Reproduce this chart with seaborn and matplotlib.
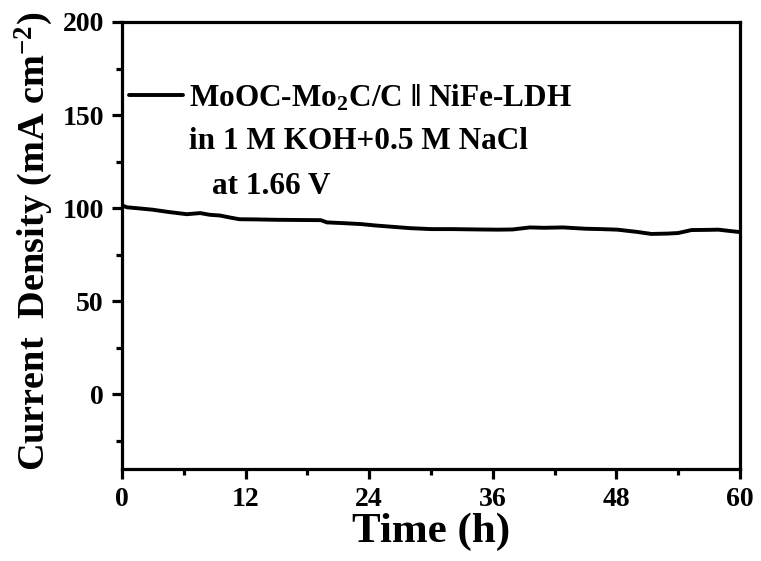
import matplotlib
matplotlib.use("Agg")
import matplotlib.pyplot as plt
from matplotlib.ticker import MultipleLocator
import pandas as pd
import seaborn as sns

# Chronoamperometry of the two-electrode cell at constant cell voltage
time_h = [0, 0.5, 1.5, 3, 4.5, 6.3, 7.6, 8.5, 9.5, 10.5, 11.4, 13, 15, 17,
          19.3, 19.9, 21.5, 23.2, 24.5, 26.1, 28, 30, 32, 34.7, 36.5, 37.9,
          39.6, 41, 42.8, 45, 46.5, 48.1, 50, 51.4, 53, 54, 55.3, 57, 57.9,
          59, 60]
current = [101.5, 100.5, 100.0, 99.2, 98.0, 96.8, 97.4, 96.5, 96.1, 95.0,
           94.1, 94.0, 93.8, 93.7, 93.6, 92.4, 92.0, 91.5, 90.8, 90.1, 89.3,
           88.8, 88.8, 88.6, 88.5, 88.6, 89.7, 89.5, 89.7, 89.0, 88.8, 88.5,
           87.3, 86.2, 86.4, 86.7, 88.3, 88.4, 88.5, 87.8, 87.2]

x_ticks = [0, 12, 24, 36, 48, 60]
y_ticks = [0, 50, 100, 150, 200]

series_label = "MoOC-Mo$_2$C/C \u2016 NiFe-LDH"
note_lines = ["in 1 M KOH+0.5 M NaCl", "at 1.66 V"]

sns.set_theme(style="white")
plt.rcParams["font.family"] = ["Liberation Serif", "DejaVu Serif"]
plt.rcParams["font.weight"] = "bold"
plt.rcParams["mathtext.default"] = "regular"
plt.rcParams["text.color"] = "black"
plt.rcParams["axes.labelcolor"] = "black"
plt.rcParams["xtick.color"] = "black"
plt.rcParams["ytick.color"] = "black"

df = pd.DataFrame({"Time (h)": time_h, "Current": current})

fig = plt.figure(figsize=(7.61, 5.61), dpi=100)
ax = fig.add_axes([0.1603, 0.164, 0.8121, 0.7968])

sns.lineplot(data=df, x="Time (h)", y="Current", ax=ax, color="black",
             linewidth=2.8, label=series_label)

ax.set_xlim(0, 60)
ax.set_ylim(-40, 200)
ax.set_xticks(x_ticks)
ax.set_yticks(y_ticks)
ax.xaxis.set_minor_locator(MultipleLocator(6))
ax.yaxis.set_minor_locator(MultipleLocator(25))

for sp in ax.spines.values():
    sp.set_linewidth(2.3)
    sp.set_color("black")

ax.tick_params(axis="both", which="major", direction="out", length=7,
               width=2.3, labelsize=20, pad=6, colors="black",
               bottom=True, left=True, top=False, right=False)
ax.tick_params(axis="both", which="minor", direction="out", length=4,
               width=2.3, color="black",
               bottom=True, left=True, top=False, right=False)
for lbl in ax.get_xticklabels() + ax.get_yticklabels():
    lbl.set_fontweight("bold")

ax.set_xlabel("Time (h)", fontsize=31, fontweight="bold", labelpad=0)
ax.set_ylabel("Current  Density (mA cm$^{-2}$)", fontsize=27.5,
              fontweight="bold")
ax.yaxis.set_label_coords(-0.108, 0.51)

leg = ax.legend(loc="center left", bbox_to_anchor=(0.012, 0.83), frameon=False,
                prop={"family": ["Liberation Serif", "DejaVu Serif"],
                      "weight": "bold", "size": 22.5},
                handlelength=1.7, handletextpad=0.22, borderaxespad=0,
                borderpad=0)
for t in leg.get_texts():
    t.set_color("black")

ax.text(0.109, 0.733, note_lines[0], transform=ax.transAxes, fontsize=22.5,
        fontweight="bold", va="center", ha="left")
ax.text(0.145, 0.633, note_lines[1], transform=ax.transAxes, fontsize=22.5,
        fontweight="bold", va="center", ha="left")

fig.savefig("out.png", dpi=100)
